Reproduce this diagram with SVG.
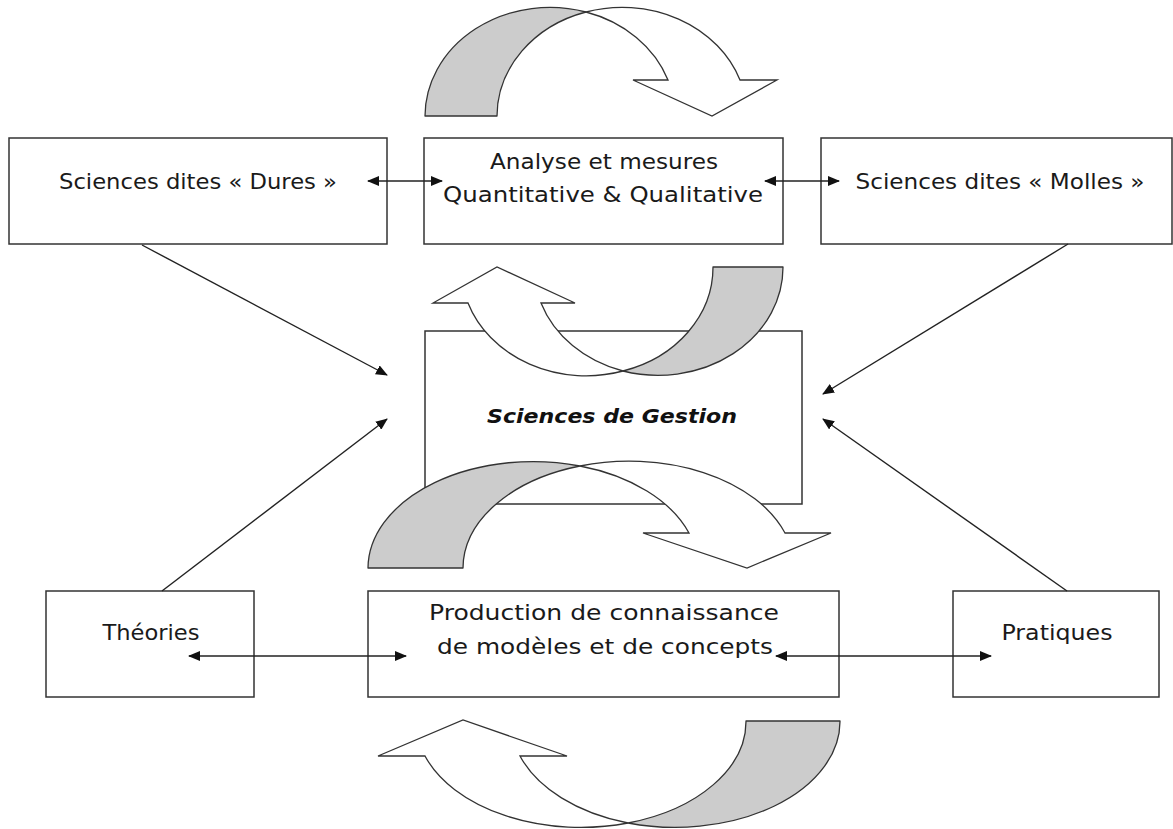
<svg xmlns="http://www.w3.org/2000/svg" width="1173" height="829" viewBox="0 0 1173 829">
  <style>
    .box { fill: #ffffff; stroke: #333333; stroke-width: 1.5; }
    .lbl { font-family: "DejaVu Sans", "Liberation Sans", sans-serif; font-size: 21px; fill: #1a1a1a; text-anchor: middle; }
    .title { font-family: "DejaVu Sans", "Liberation Sans", sans-serif; font-size: 20px; font-weight: bold; font-style: italic; fill: #111111; text-anchor: middle; }
    .link { fill: none; stroke: #222222; stroke-width: 1.4; }
    .band-back { fill: #cccccc; stroke: #333333; stroke-width: 1.3; stroke-linejoin: round; }
    .band-front { fill: #ffffff; stroke: #333333; stroke-width: 1.3; stroke-linejoin: miter; }
  </style>
  <defs>
    <marker id="tip" viewBox="0 0 12 10" refX="11" refY="5" markerWidth="12" markerHeight="10" markerUnits="userSpaceOnUse" orient="auto-start-reverse">
      <path d="M0,0 L12,5 L0,10 Z" fill="#111111"/>
    </marker>
  </defs>

  <!-- nodes -->
  <g id="dures">
    <rect class="box" x="9" y="138" width="378" height="106"/>
    <text class="lbl" x="198" y="189" textLength="278" lengthAdjust="spacingAndGlyphs">Sciences dites « Dures »</text>
  </g>
  <g id="analyse">
    <rect class="box" x="424" y="138" width="359" height="106"/>
    <text class="lbl" x="604" y="169" textLength="228" lengthAdjust="spacingAndGlyphs">Analyse et mesures</text>
    <text class="lbl" x="603" y="202" textLength="320" lengthAdjust="spacingAndGlyphs">Quantitative &amp; Qualitative</text>
  </g>
  <g id="molles">
    <rect class="box" x="821" y="138" width="351" height="106"/>
    <text class="lbl" x="1000" y="189" textLength="289" lengthAdjust="spacingAndGlyphs">Sciences dites « Molles »</text>
  </g>
  <g id="gestion">
    <rect class="box" x="425" y="331" width="377" height="173"/>
    <text class="title" x="612" y="423" textLength="250" lengthAdjust="spacingAndGlyphs">Sciences de Gestion</text>
  </g>
  <g id="theories">
    <rect class="box" x="46" y="591" width="208" height="106"/>
    <text class="lbl" x="151" y="640" textLength="97" lengthAdjust="spacingAndGlyphs">Théories</text>
  </g>
  <g id="production">
    <rect class="box" x="368" y="591" width="471" height="106"/>
    <text class="lbl" x="604" y="620" textLength="350" lengthAdjust="spacingAndGlyphs">Production de connaissance</text>
    <text class="lbl" x="605" y="654" textLength="336" lengthAdjust="spacingAndGlyphs">de modèles et de concepts</text>
  </g>
  <g id="pratiques">
    <rect class="box" x="953" y="591" width="206" height="106"/>
    <text class="lbl" x="1057" y="640" textLength="111" lengthAdjust="spacingAndGlyphs">Pratiques</text>
  </g>

  <!-- connectors -->
  <g id="connectors">
    <line class="link" x1="368" y1="181" x2="442" y2="181" marker-start="url(#tip)" marker-end="url(#tip)"/>
    <line class="link" x1="765" y1="181" x2="839" y2="181" marker-start="url(#tip)" marker-end="url(#tip)"/>
    <line class="link" x1="142" y1="245" x2="387" y2="375" marker-end="url(#tip)"/>
    <line class="link" x1="1068" y1="244" x2="823" y2="394" marker-end="url(#tip)"/>
    <line class="link" x1="162" y1="591" x2="387" y2="419" marker-end="url(#tip)"/>
    <line class="link" x1="1067" y1="591" x2="823" y2="419" marker-end="url(#tip)"/>
    <line class="link" x1="189" y1="656" x2="406" y2="656" marker-start="url(#tip)" marker-end="url(#tip)"/>
    <line class="link" x1="776" y1="656" x2="991" y2="656" marker-start="url(#tip)" marker-end="url(#tip)"/>
  </g>

  <!-- curved cycle arrows -->
  <g id="cycle-top">
    <path class="band-back" d="M425,116 A125,109 0 0 1 586,12 A125,109 0 0 0 497,116 Z"/>
    <path class="band-front" d="M586,12 A125,109 0 0 1 740,80 L777,80 L712,116 L633,80 L668,80 A125,109 0 0 0 586,12 Z"/>
  </g>
  <g id="cycle-upper">
    <path class="band-back" d="M783,267 A125,108 0 0 1 623,371 A125,108 0 0 0 713,267 Z"/>
    <path class="band-front" d="M623,371 A125,108 0 0 1 468,303 L433,303 L497,267 L575,303 L541,303 A125,108 0 0 0 623,371 Z"/>
  </g>
  <g id="cycle-lower">
    <path class="band-back" d="M368,568 A165,107 0 0 1 580,466 A165,107 0 0 0 463,568 Z"/>
    <path class="band-front" d="M580,466 A165,107 0 0 1 785,533 L831,533 L747,568 L643,533 L689,533 A165,107 0 0 0 580,466 Z"/>
  </g>
  <g id="cycle-bottom">
    <path class="band-back" d="M840,721 A165,106 0 0 1 628,823 A165,106 0 0 0 746,721 Z"/>
    <path class="band-front" d="M628,823 A165,106 0 0 1 425,756 L378,756 L463,720 L567,756 L520,756 A165,106 0 0 0 628,823 Z"/>
  </g>
</svg>
